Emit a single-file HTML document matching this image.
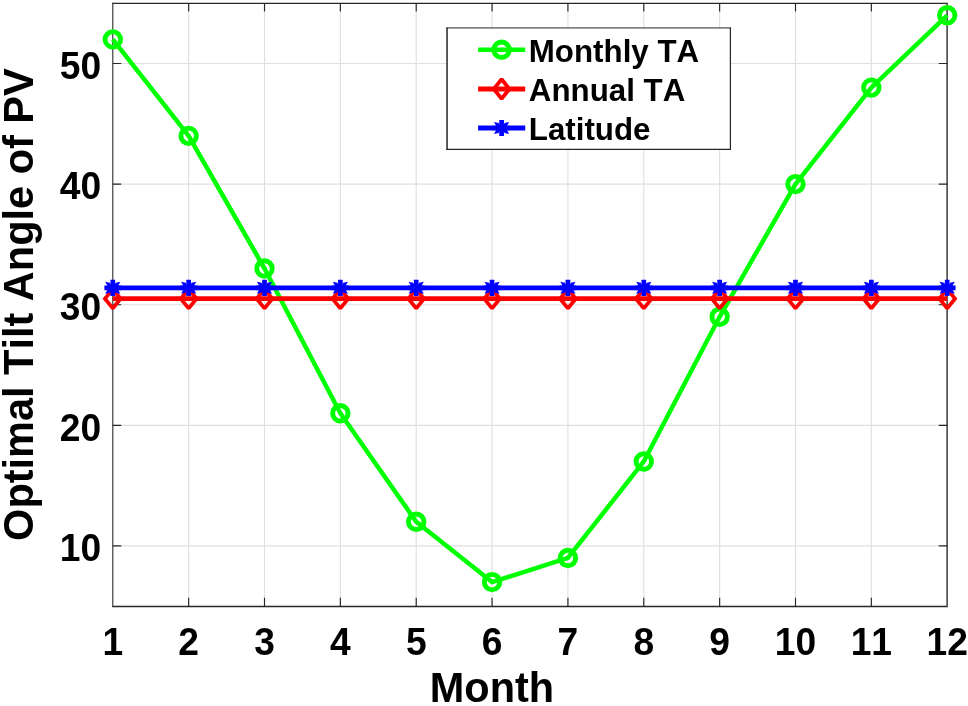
<!DOCTYPE html>
<html lang="en">
<head>
<meta charset="utf-8">
<title>Optimal Tilt Angle of PV by Month</title>
<style>
html,body{margin:0;padding:0;background:#fff;}
body{width:968px;height:706px;overflow:hidden;}
svg{display:block;}
</style>
</head>
<body>
<svg width="968" height="706" viewBox="0 0 968 706">
<rect width="968" height="706" fill="#fff"/>
<path d="M112.80 3.2V606.2M188.65 3.2V606.2M264.51 3.2V606.2M340.36 3.2V606.2M416.22 3.2V606.2M492.07 3.2V606.2M567.93 3.2V606.2M643.78 3.2V606.2M719.64 3.2V606.2M795.49 3.2V606.2M871.35 3.2V606.2M947.20 3.2V606.2M112.8 545.90H947.2M112.8 425.30H947.2M112.8 304.70H947.2M112.8 184.10H947.2M112.8 63.50H947.2" stroke="#000" stroke-opacity="0.125" stroke-width="1.15" fill="none"/>
<path d="M112.8 2.7V607.1" stroke="#262626" stroke-width="1" fill="none"/>
<path d="M112.5 3.3H947.7M112.5 606.5H947.7M947.1 2.7V607.1" stroke="#262626" stroke-width="1.3" fill="none"/>
<path d="M188.65 606.2v-8.4M188.65 3.2v8.4M264.51 606.2v-8.4M264.51 3.2v8.4M340.36 606.2v-8.4M340.36 3.2v8.4M416.22 606.2v-8.4M416.22 3.2v8.4M492.07 606.2v-8.4M492.07 3.2v8.4M567.93 606.2v-8.4M567.93 3.2v8.4M643.78 606.2v-8.4M643.78 3.2v8.4M719.64 606.2v-8.4M719.64 3.2v8.4M795.49 606.2v-8.4M795.49 3.2v8.4M871.35 606.2v-8.4M871.35 3.2v8.4M112.8 545.90h8.4M947.2 545.90h-8.4M112.8 425.30h8.4M947.2 425.30h-8.4M112.8 304.70h8.4M947.2 304.70h-8.4M112.8 184.10h8.4M947.2 184.10h-8.4M112.8 63.50h8.4M947.2 63.50h-8.4" stroke="#262626" stroke-width="1.15" fill="none"/>
<polyline points="112.80,39.38 188.65,135.86 264.51,268.52 340.36,413.24 416.22,521.78 492.07,582.08 567.93,557.96 643.78,461.48 719.64,316.76 795.49,184.10 871.35,87.62 947.20,15.26" fill="none" stroke="#00ff00" stroke-width="4.5" stroke-linejoin="round"/>
<circle cx="112.80" cy="39.38" r="7.75" fill="none" stroke="#00ff00" stroke-width="4.9"/>
<circle cx="188.65" cy="135.86" r="7.75" fill="none" stroke="#00ff00" stroke-width="4.9"/>
<circle cx="264.51" cy="268.52" r="7.75" fill="none" stroke="#00ff00" stroke-width="4.9"/>
<circle cx="340.36" cy="413.24" r="7.75" fill="none" stroke="#00ff00" stroke-width="4.9"/>
<circle cx="416.22" cy="521.78" r="7.75" fill="none" stroke="#00ff00" stroke-width="4.9"/>
<circle cx="492.07" cy="582.08" r="7.75" fill="none" stroke="#00ff00" stroke-width="4.9"/>
<circle cx="567.93" cy="557.96" r="7.75" fill="none" stroke="#00ff00" stroke-width="4.9"/>
<circle cx="643.78" cy="461.48" r="7.75" fill="none" stroke="#00ff00" stroke-width="4.9"/>
<circle cx="719.64" cy="316.76" r="7.75" fill="none" stroke="#00ff00" stroke-width="4.9"/>
<circle cx="795.49" cy="184.10" r="7.75" fill="none" stroke="#00ff00" stroke-width="4.9"/>
<circle cx="871.35" cy="87.62" r="7.75" fill="none" stroke="#00ff00" stroke-width="4.9"/>
<circle cx="947.20" cy="15.26" r="7.75" fill="none" stroke="#00ff00" stroke-width="4.9"/>
<path d="M112.8 298.67H947.2" stroke="#ff0000" stroke-width="4.8"/>
<path d="M112.80 288.97L120.60 298.67L112.80 308.37L105.00 298.67Z" fill="none" stroke="#ff0000" stroke-width="3.8" stroke-linejoin="miter" stroke-miterlimit="1.45"/>
<path d="M188.65 288.97L196.45 298.67L188.65 308.37L180.85 298.67Z" fill="none" stroke="#ff0000" stroke-width="3.8" stroke-linejoin="miter" stroke-miterlimit="1.45"/>
<path d="M264.51 288.97L272.31 298.67L264.51 308.37L256.71 298.67Z" fill="none" stroke="#ff0000" stroke-width="3.8" stroke-linejoin="miter" stroke-miterlimit="1.45"/>
<path d="M340.36 288.97L348.16 298.67L340.36 308.37L332.56 298.67Z" fill="none" stroke="#ff0000" stroke-width="3.8" stroke-linejoin="miter" stroke-miterlimit="1.45"/>
<path d="M416.22 288.97L424.02 298.67L416.22 308.37L408.42 298.67Z" fill="none" stroke="#ff0000" stroke-width="3.8" stroke-linejoin="miter" stroke-miterlimit="1.45"/>
<path d="M492.07 288.97L499.87 298.67L492.07 308.37L484.27 298.67Z" fill="none" stroke="#ff0000" stroke-width="3.8" stroke-linejoin="miter" stroke-miterlimit="1.45"/>
<path d="M567.93 288.97L575.73 298.67L567.93 308.37L560.13 298.67Z" fill="none" stroke="#ff0000" stroke-width="3.8" stroke-linejoin="miter" stroke-miterlimit="1.45"/>
<path d="M643.78 288.97L651.58 298.67L643.78 308.37L635.98 298.67Z" fill="none" stroke="#ff0000" stroke-width="3.8" stroke-linejoin="miter" stroke-miterlimit="1.45"/>
<path d="M719.64 288.97L727.44 298.67L719.64 308.37L711.84 298.67Z" fill="none" stroke="#ff0000" stroke-width="3.8" stroke-linejoin="miter" stroke-miterlimit="1.45"/>
<path d="M795.49 288.97L803.29 298.67L795.49 308.37L787.69 298.67Z" fill="none" stroke="#ff0000" stroke-width="3.8" stroke-linejoin="miter" stroke-miterlimit="1.45"/>
<path d="M871.35 288.97L879.15 298.67L871.35 308.37L863.55 298.67Z" fill="none" stroke="#ff0000" stroke-width="3.8" stroke-linejoin="miter" stroke-miterlimit="1.45"/>
<path d="M947.20 288.97L955.00 298.67L947.20 308.37L939.40 298.67Z" fill="none" stroke="#ff0000" stroke-width="3.8" stroke-linejoin="miter" stroke-miterlimit="1.45"/>
<path d="M112.8 287.82H947.2" stroke="#0000ff" stroke-width="4.8"/>
<path d="M112.80 279.72V295.92M104.40 287.82H121.20" fill="none" stroke="#0000ff" stroke-width="4.7"/><path d="M105.20 281.82L109.90 282.82L111.60 286.82L107.60 286.12ZM105.20 293.82L109.90 292.82L111.60 288.82L107.60 289.52ZM120.40 281.82L115.70 282.82L114.00 286.82L118.00 286.12ZM120.40 293.82L115.70 292.82L114.00 288.82L118.00 289.52Z" fill="#0000ff"/>
<path d="M188.65 279.72V295.92M180.25 287.82H197.05" fill="none" stroke="#0000ff" stroke-width="4.7"/><path d="M181.05 281.82L185.75 282.82L187.45 286.82L183.45 286.12ZM181.05 293.82L185.75 292.82L187.45 288.82L183.45 289.52ZM196.25 281.82L191.55 282.82L189.85 286.82L193.85 286.12ZM196.25 293.82L191.55 292.82L189.85 288.82L193.85 289.52Z" fill="#0000ff"/>
<path d="M264.51 279.72V295.92M256.11 287.82H272.91" fill="none" stroke="#0000ff" stroke-width="4.7"/><path d="M256.91 281.82L261.61 282.82L263.31 286.82L259.31 286.12ZM256.91 293.82L261.61 292.82L263.31 288.82L259.31 289.52ZM272.11 281.82L267.41 282.82L265.71 286.82L269.71 286.12ZM272.11 293.82L267.41 292.82L265.71 288.82L269.71 289.52Z" fill="#0000ff"/>
<path d="M340.36 279.72V295.92M331.96 287.82H348.76" fill="none" stroke="#0000ff" stroke-width="4.7"/><path d="M332.76 281.82L337.46 282.82L339.16 286.82L335.16 286.12ZM332.76 293.82L337.46 292.82L339.16 288.82L335.16 289.52ZM347.96 281.82L343.26 282.82L341.56 286.82L345.56 286.12ZM347.96 293.82L343.26 292.82L341.56 288.82L345.56 289.52Z" fill="#0000ff"/>
<path d="M416.22 279.72V295.92M407.82 287.82H424.62" fill="none" stroke="#0000ff" stroke-width="4.7"/><path d="M408.62 281.82L413.32 282.82L415.02 286.82L411.02 286.12ZM408.62 293.82L413.32 292.82L415.02 288.82L411.02 289.52ZM423.82 281.82L419.12 282.82L417.42 286.82L421.42 286.12ZM423.82 293.82L419.12 292.82L417.42 288.82L421.42 289.52Z" fill="#0000ff"/>
<path d="M492.07 279.72V295.92M483.67 287.82H500.47" fill="none" stroke="#0000ff" stroke-width="4.7"/><path d="M484.47 281.82L489.17 282.82L490.87 286.82L486.87 286.12ZM484.47 293.82L489.17 292.82L490.87 288.82L486.87 289.52ZM499.67 281.82L494.97 282.82L493.27 286.82L497.27 286.12ZM499.67 293.82L494.97 292.82L493.27 288.82L497.27 289.52Z" fill="#0000ff"/>
<path d="M567.93 279.72V295.92M559.53 287.82H576.33" fill="none" stroke="#0000ff" stroke-width="4.7"/><path d="M560.33 281.82L565.03 282.82L566.73 286.82L562.73 286.12ZM560.33 293.82L565.03 292.82L566.73 288.82L562.73 289.52ZM575.53 281.82L570.83 282.82L569.13 286.82L573.13 286.12ZM575.53 293.82L570.83 292.82L569.13 288.82L573.13 289.52Z" fill="#0000ff"/>
<path d="M643.78 279.72V295.92M635.38 287.82H652.18" fill="none" stroke="#0000ff" stroke-width="4.7"/><path d="M636.18 281.82L640.88 282.82L642.58 286.82L638.58 286.12ZM636.18 293.82L640.88 292.82L642.58 288.82L638.58 289.52ZM651.38 281.82L646.68 282.82L644.98 286.82L648.98 286.12ZM651.38 293.82L646.68 292.82L644.98 288.82L648.98 289.52Z" fill="#0000ff"/>
<path d="M719.64 279.72V295.92M711.24 287.82H728.04" fill="none" stroke="#0000ff" stroke-width="4.7"/><path d="M712.04 281.82L716.74 282.82L718.44 286.82L714.44 286.12ZM712.04 293.82L716.74 292.82L718.44 288.82L714.44 289.52ZM727.24 281.82L722.54 282.82L720.84 286.82L724.84 286.12ZM727.24 293.82L722.54 292.82L720.84 288.82L724.84 289.52Z" fill="#0000ff"/>
<path d="M795.49 279.72V295.92M787.09 287.82H803.89" fill="none" stroke="#0000ff" stroke-width="4.7"/><path d="M787.89 281.82L792.59 282.82L794.29 286.82L790.29 286.12ZM787.89 293.82L792.59 292.82L794.29 288.82L790.29 289.52ZM803.09 281.82L798.39 282.82L796.69 286.82L800.69 286.12ZM803.09 293.82L798.39 292.82L796.69 288.82L800.69 289.52Z" fill="#0000ff"/>
<path d="M871.35 279.72V295.92M862.95 287.82H879.75" fill="none" stroke="#0000ff" stroke-width="4.7"/><path d="M863.75 281.82L868.45 282.82L870.15 286.82L866.15 286.12ZM863.75 293.82L868.45 292.82L870.15 288.82L866.15 289.52ZM878.95 281.82L874.25 282.82L872.55 286.82L876.55 286.12ZM878.95 293.82L874.25 292.82L872.55 288.82L876.55 289.52Z" fill="#0000ff"/>
<path d="M947.20 279.72V295.92M938.80 287.82H955.60" fill="none" stroke="#0000ff" stroke-width="4.7"/><path d="M939.60 281.82L944.30 282.82L946.00 286.82L942.00 286.12ZM939.60 293.82L944.30 292.82L946.00 288.82L942.00 289.52ZM954.80 281.82L950.10 282.82L948.40 286.82L952.40 286.12ZM954.80 293.82L950.10 292.82L948.40 288.82L952.40 289.52Z" fill="#0000ff"/>
<g font-family="'Liberation Sans', Arial, Helvetica, sans-serif" font-weight="700" fill="#000" style="font-kerning:none">
<g font-size="37.2" text-anchor="middle">
<text transform="translate(112.80 654.5) scale(1 1.06)">1</text>
<text transform="translate(188.65 654.5) scale(1 1.06)">2</text>
<text transform="translate(264.51 654.5) scale(1 1.06)">3</text>
<text transform="translate(340.36 654.5) scale(1 1.06)">4</text>
<text transform="translate(416.22 654.5) scale(1 1.06)">5</text>
<text transform="translate(492.07 654.5) scale(1 1.06)">6</text>
<text transform="translate(567.93 654.5) scale(1 1.06)">7</text>
<text transform="translate(643.78 654.5) scale(1 1.06)">8</text>
<text transform="translate(719.64 654.5) scale(1 1.06)">9</text>
<text transform="translate(795.49 654.5) scale(1 1.06)">10</text>
<text transform="translate(871.35 654.5) scale(1 1.06)">11</text>
<text transform="translate(947.20 654.5) scale(1 1.06)">12</text>
</g>
<g font-size="37.2" text-anchor="end">
<text transform="translate(101.2 561.10) scale(1 1.06)">10</text>
<text transform="translate(101.2 440.50) scale(1 1.06)">20</text>
<text transform="translate(101.2 319.90) scale(1 1.06)">30</text>
<text transform="translate(101.2 199.30) scale(1 1.06)">40</text>
<text transform="translate(101.2 78.70) scale(1 1.06)">50</text>
</g>
<text transform="translate(492 701.7) scale(1 1.025)" font-size="41.5" text-anchor="middle">Month</text>
<text transform="translate(32.7 304.6) rotate(-90) scale(1 1.025)" font-size="41.5" text-anchor="middle">Optimal Tilt Angle of PV</text>
<rect x="447" y="28" width="283.4" height="121.3" fill="#fff"/>
<path d="M447.05 27.4V149.9" stroke="#262626" stroke-width="1.5" fill="none"/>
<path d="M446.4 27.95H731" stroke="#262626" stroke-width="1" fill="none"/>
<path d="M730.4 27.4V149.9M446.4 149.3H731" stroke="#262626" stroke-width="1.2" fill="none"/>
<path d="M478.1 49.7H525.2" stroke="#00ff00" stroke-width="4.5"/>
<circle cx="501.60" cy="49.70" r="7.75" fill="none" stroke="#00ff00" stroke-width="4.9"/>
<text transform="translate(528.8 61.50) scale(1 1.02)" font-size="31.3">Monthly TA</text>
<path d="M478.1 89H525.2" stroke="#ff0000" stroke-width="4.8"/>
<path d="M501.60 79.30L509.40 89.00L501.60 98.70L493.80 89.00Z" fill="none" stroke="#ff0000" stroke-width="3.8" stroke-linejoin="miter" stroke-miterlimit="1.45"/>
<text transform="translate(528.8 100.80) scale(1 1.02)" font-size="31.3">Annual TA</text>
<path d="M478.1 128H525.2" stroke="#0000ff" stroke-width="4.8"/>
<path d="M501.60 119.90V136.10M493.20 128.00H510.00" fill="none" stroke="#0000ff" stroke-width="4.7"/><path d="M494.00 122.00L498.70 123.00L500.40 127.00L496.40 126.30ZM494.00 134.00L498.70 133.00L500.40 129.00L496.40 129.70ZM509.20 122.00L504.50 123.00L502.80 127.00L506.80 126.30ZM509.20 134.00L504.50 133.00L502.80 129.00L506.80 129.70Z" fill="#0000ff"/>
<text transform="translate(528.8 139.80) scale(1 1.02)" font-size="31.3">Latitude</text>
</g>
</svg>
</body>
</html>
